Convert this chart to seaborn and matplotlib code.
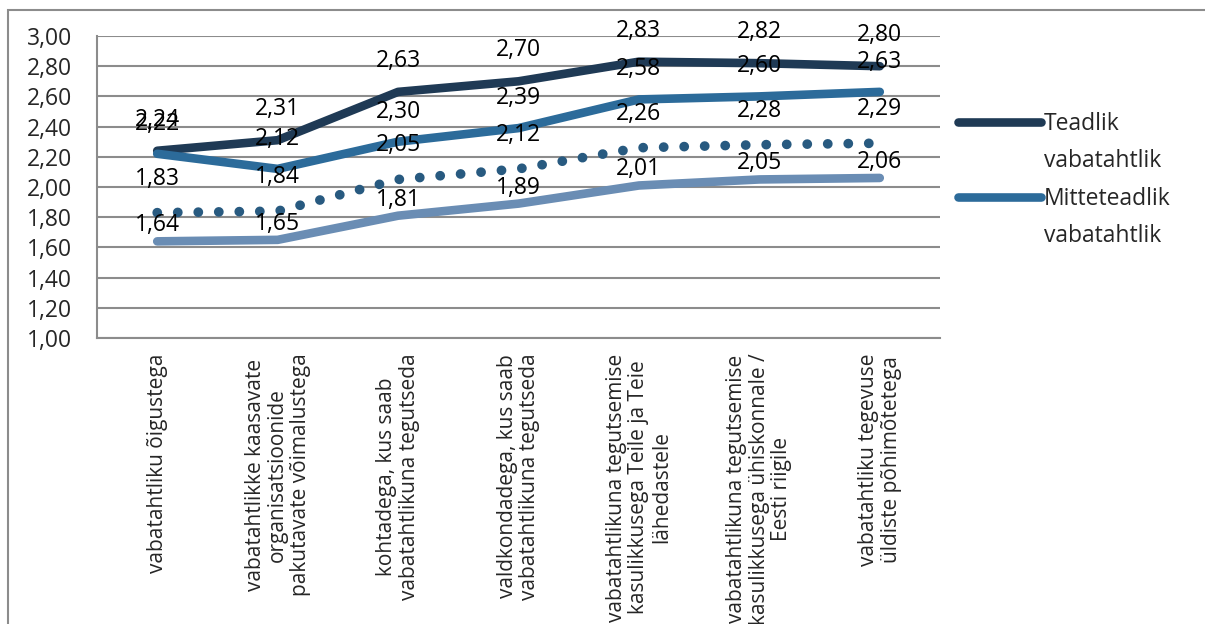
import numpy as np
import pandas as pd
import matplotlib
matplotlib.use("Agg")
import matplotlib.pyplot as plt
import seaborn as sns
from matplotlib.lines import Line2D
from matplotlib.patches import Rectangle

categories = [
    "vabatahtliku õigustega",
    "vabatahtlikke kaasavate\norganisatsioonide\npakutavate võimalustega",
    "kohtadega, kus saab\nvabatahtlikuna tegutseda",
    "valdkondadega, kus saab\nvabatahtlikuna tegutseda",
    "vabatahtlikuna tegutsemise\nkasulikkusega Teile ja Teie\nlähedastele",
    "vabatahtlikuna tegutsemise\nkasulikkusega ühiskonnale /\nEesti riigile",
    "vabatahtliku tegevuse\nüldiste põhimõtetega",
]
teadlik = [2.24, 2.31, 2.63, 2.70, 2.83, 2.82, 2.80]
mitteteadlik = [2.22, 2.12, 2.30, 2.39, 2.58, 2.60, 2.63]
series3 = [1.83, 1.84, 2.05, 2.12, 2.26, 2.28, 2.29]
series4 = [1.64, 1.65, 1.81, 1.89, 2.01, 2.05, 2.06]
yticks = [1.0, 1.2, 1.4, 1.6, 1.8, 2.0, 2.2, 2.4, 2.6, 2.8, 3.0]

sns.set_style("white")
plt.rcParams["font.family"] = ["Open Sans", "DejaVu Sans"]

GRID = "#8c8c8c"
# name, values, colour, linestyle, linewidth, label offset (px)
styles = [
    ("Teadlik vabatahtlik", teadlik, "#1f3a55", "-", 6.2, 31),
    ("Mitteteadlik vabatahtlik", mitteteadlik, "#2c6b9a", "-", 6.2, 30),
    ("s3", series3, "#285a80", (0, (0.01, 2.1)), 7.0, 34),
    ("s4", series4, "#6a8db4", "-", 6.2, 16),
]

fig = plt.figure(figsize=(12.05, 6.24), dpi=100)
ax = fig.add_axes([97 / 1205, 1 - 338 / 624, (940 - 97) / 1205, (338 - 36) / 624])

x = np.arange(len(categories))
for name, vals, col, ls, lw, off in styles:
    df = pd.DataFrame({"x": x, "y": vals})
    sns.lineplot(data=df, x="x", y="y", ax=ax, color=col, linewidth=lw,
                 linestyle=ls, legend=False)
    ax.lines[-1].set_solid_capstyle("round")
    ax.lines[-1].set_dash_capstyle("round")
    ax.lines[-1].set_solid_joinstyle("round")
    for xi, v in zip(x, vals):
        ax.annotate(f"{v:.2f}".replace(".", ","), (xi, v), xytext=(0, off),
                    textcoords="offset pixels", ha="center", va="center",
                    fontsize=16.5, color="black")

ax.set_xlim(-0.5, len(categories) - 0.5)
ax.set_ylim(1.0, 3.0)
ax.set_yticks(yticks)
ax.set_yticklabels([f"{t:.2f}".replace(".", ",") for t in yticks], fontsize=16.5)
ax.set_xticks(x)
ax.set_xticklabels(categories, rotation=90, fontsize=15, ha="center", va="top",
                   multialignment="center", linespacing=1.1)
ax.tick_params(axis="both", length=0)
ax.tick_params(axis="y", pad=18)
ax.tick_params(axis="x", pad=11)
ax.yaxis.grid(True, color=GRID, linewidth=1.5)
ax.set_axisbelow(True)
for s in ["top", "right"]:
    ax.spines[s].set_visible(False)
for s in ["left", "bottom"]:
    ax.spines[s].set_color(GRID)
    ax.spines[s].set_linewidth(1.5)
ax.set_xlabel("")
ax.set_ylabel("")

# legend (only the two named series)
h1 = Line2D([], [], color=styles[0][2], linewidth=6.2, solid_capstyle="round")
h2 = Line2D([], [], color=styles[1][2], linewidth=6.2, solid_capstyle="round")
blank = Line2D([], [], color="none")
fig.legend([h1, blank, h2, blank],
           ["Teadlik", "vabatahtlik", "Mitteteadlik", "vabatahtlik"],
           loc="upper left", bbox_to_anchor=(958 / 1205, 1 - 112 / 624),
           frameon=False, fontsize=16.5, handlelength=3.6, handletextpad=0.15,
           labelspacing=0.58, borderaxespad=0, borderpad=0)

fig.patches.append(Rectangle((8 / 1205, -0.1), 1.2, 0.1 + 1 - 10 / 624,
                             transform=fig.transFigure, fill=False,
                             edgecolor=GRID, linewidth=1.5))

fig.savefig("out.png", dpi=100)
